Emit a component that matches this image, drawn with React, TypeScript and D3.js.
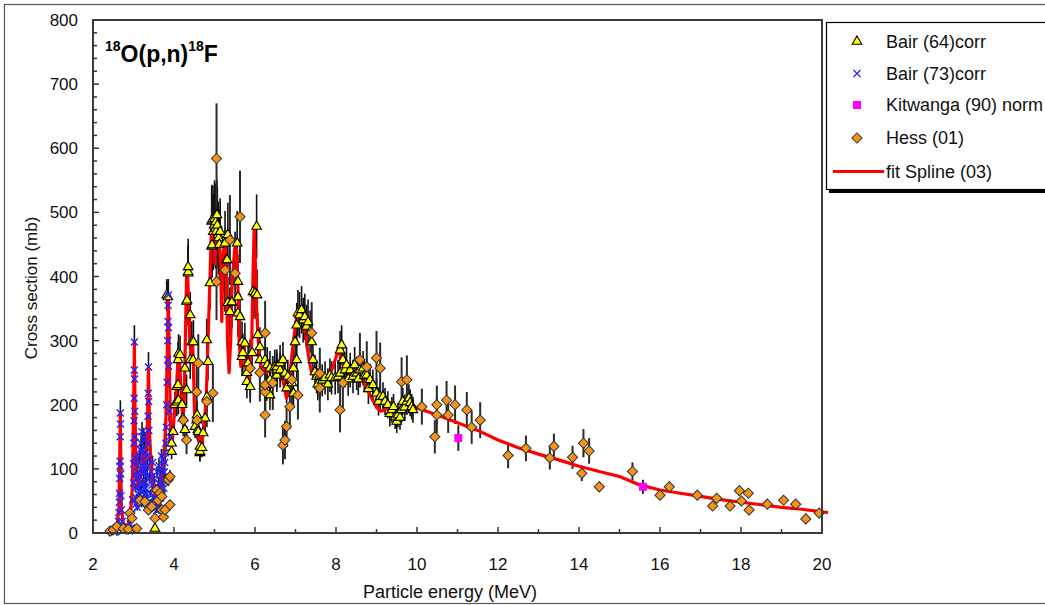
import { useEffect, useRef } from 'react';
import * as d3 from 'd3';

// [energy MeV, cross section mb, error mb]
type Pt = [number, number, number];

const bair64: Pt[] = [
  [3.53, 7, 3], [3.82, 371, 25], [3.85, 368, 25], [3.94, 127, 12], [3.94, 140, 14], [3.98, 158, 15],
  [4.02, 200, 20], [4.07, 204, 22], [4.07, 228, 24], [4.1, 231, 25], [4.1, 270, 28], [4.11, 207, 22],
  [4.11, 280, 30], [4.15, 278, 30], [4.19, 200, 22], [4.2, 200, 22], [4.22, 179, 20], [4.27, 161, 18],
  [4.27, 257, 27], [4.31, 223, 24], [4.31, 361, 38], [4.32, 363, 38], [4.35, 405, 42], [4.35, 407, 42],
  [4.35, 415, 44], [4.4, 270, 30], [4.4, 340, 36], [4.44, 298, 32], [4.47, 270, 30], [4.48, 298, 34],
  [4.52, 166, 18], [4.56, 176, 19], [4.57, 184, 20], [4.59, 161, 18], [4.6, 158, 17], [4.64, 125, 14],
  [4.64, 127, 14], [4.64, 135, 15], [4.69, 133, 15], [4.72, 156, 17], [4.77, 179, 20], [4.81, 212, 23],
  [4.81, 301, 33], [4.84, 267, 29], [4.89, 390, 42], [4.93, 447, 50], [4.93, 486, 55], [4.94, 449, 50],
  [4.94, 488, 55], [4.97, 470, 60], [4.99, 480, 62], [5.0, 490, 60], [5.02, 475, 62], [5.03, 485, 60],
  [5.04, 470, 58], [5.06, 496, 55], [5.07, 480, 60], [5.09, 465, 52], [5.1, 460, 56], [5.12, 450, 55],
  [5.14, 470, 52], [5.26, 452, 50], [5.3, 426, 46],
  [5.31, 426, 46], [5.33, 359, 40], [5.33, 465, 50], [5.38, 345, 38], [5.42, 359, 40], [5.43, 360, 40],
  [5.56, 452, 50], [5.58, 343, 37], [5.58, 368, 40], [5.58, 392, 42], [5.63, 337, 36], [5.68, 275, 30],
  [5.68, 298, 32], [5.7, 281, 30], [5.75, 296, 32], [5.8, 236, 26], [5.8, 250, 27], [5.83, 265, 28],
  [5.88, 228, 25], [5.93, 281, 30], [5.95, 376, 40], [6.0, 374, 40], [6.04, 478, 50], [6.05, 371, 40],
  [6.07, 309, 34], [6.12, 270, 29], [6.12, 290, 31], [6.25, 270, 29], [6.29, 231, 25], [6.3, 262, 28],
  [6.37, 215, 23], [6.37, 239, 25], [6.37, 257, 27], [6.49, 259, 27], [6.54, 246, 26], [6.54, 254, 27],
  [6.54, 259, 27], [6.62, 254, 27], [6.62, 265, 28], [6.69, 270, 28], [6.74, 249, 26], [6.78, 226, 24],
  [6.81, 244, 26], [6.91, 234, 25], [6.95, 218, 23], [6.95, 257, 27], [6.99, 298, 32], [7.03, 270, 29],
  [7.03, 324, 35], [7.06, 343, 36], [7.1, 340, 36], [7.15, 348, 37], [7.19, 332, 35], [7.23, 337, 36],
  [7.27, 322, 34], [7.31, 329, 35], [7.36, 314, 33], [7.4, 298, 32], [7.43, 270, 29], [7.48, 251, 27],
  [7.52, 244, 26], [7.55, 232, 25], [7.6, 246, 26], [7.66, 238, 25], [7.73, 242, 26], [7.8, 232, 25],
  [7.85, 246, 26], [7.89, 242, 26], [7.98, 242, 26], [8.05, 244, 26], [8.1, 249, 26], [8.1, 285, 30],
  [8.14, 293, 31], [8.17, 270, 29], [8.22, 254, 27], [8.26, 262, 28], [8.3, 240, 26], [8.35, 254, 27],
  [8.42, 244, 26], [8.46, 262, 28], [8.51, 249, 26], [8.55, 240, 25], [8.59, 254, 27], [8.67, 257, 27],
  [8.7, 245, 26], [8.76, 246, 26], [8.8, 225, 24], [8.84, 239, 25], [8.91, 231, 24], [9.0, 218, 23],
  [9.05, 205, 22], [9.09, 213, 22], [9.16, 213, 22], [9.21, 205, 21], [9.28, 200, 21], [9.33, 186, 20],
  [9.38, 192, 20], [9.42, 197, 20], [9.46, 181, 19], [9.5, 174, 18], [9.53, 184, 19], [9.58, 180, 19],
  [9.62, 192, 20], [9.65, 205, 21], [9.7, 196, 20], [9.75, 205, 21], [9.8, 210, 22], [9.83, 203, 21],
  [9.87, 197, 20], [9.9, 192, 20],
];

const bair73: Pt[] = [
  [2.52, 1, 1], [2.55, 2, 1], [2.58, 3, 1], [2.61, 8, 2], [2.63, 18, 3], [2.64, 32, 4], [2.65, 48, 5],
  [2.655, 62, 6], [2.66, 85, 8], [2.665, 104, 10], [2.67, 112, 10], [2.672, 150, 14], [2.675, 187, 20],
  [2.68, 170, 18], [2.685, 92, 9], [2.69, 58, 6], [2.7, 36, 4], [2.72, 18, 3], [2.75, 8, 2], [2.8, 5, 2],
  [2.86, 6, 2], [2.9, 3, 1], [2.92, 14, 3], [2.95, 8, 2], [2.96, 30, 4], [2.98, 52, 6], [3.0, 78, 8],
  [3.005, 108, 10], [3.01, 140, 13], [3.013, 175, 16], [3.016, 210, 20], [3.02, 254, 24], [3.022, 298, 26],
  [3.026, 240, 22], [3.03, 190, 18], [3.035, 150, 14], [3.04, 118, 11], [3.045, 92, 9], [3.05, 70, 7],
  [3.06, 45, 5], [3.07, 55, 6], [3.08, 85, 8], [3.09, 40, 5], [3.1, 95, 9], [3.11, 110, 10], [3.12, 72, 7],
  [3.13, 60, 6], [3.14, 50, 5], [3.15, 120, 11], [3.16, 88, 8], [3.17, 130, 12], [3.18, 65, 7],
  [3.19, 140, 13], [3.19, 75, 7], [3.2, 100, 9], [3.2, 45, 5], [3.21, 158, 15], [3.22, 78, 8],
  [3.23, 105, 10], [3.24, 130, 12], [3.25, 92, 9], [3.25, 150, 14], [3.26, 60, 6], [3.27, 110, 10],
  [3.27, 70, 7], [3.28, 145, 13], [3.29, 80, 8], [3.29, 125, 12], [3.3, 52, 6], [3.3, 95, 9], [3.31, 70, 7],
  [3.32, 120, 11], [3.32, 60, 6], [3.33, 90, 9], [3.34, 105, 10], [3.35, 140, 13], [3.36, 182, 17],
  [3.365, 218, 20], [3.37, 259, 23], [3.375, 205, 19], [3.38, 160, 15], [3.39, 115, 11], [3.4, 85, 8],
  [3.42, 62, 6], [3.43, 95, 9], [3.44, 48, 5], [3.46, 75, 7], [3.47, 110, 10], [3.48, 55, 6], [3.5, 40, 5],
  [3.51, 85, 8], [3.52, 68, 7], [3.54, 70, 7], [3.55, 50, 5], [3.57, 35, 4], [3.58, 95, 9], [3.6, 60, 6],
  [3.61, 40, 5], [3.62, 78, 8], [3.63, 105, 10], [3.64, 45, 5], [3.66, 90, 9], [3.67, 55, 6], [3.68, 70, 7],
  [3.69, 120, 11], [3.7, 100, 9], [3.71, 60, 6], [3.72, 82, 8], [3.73, 95, 9], [3.74, 115, 11],
  [3.75, 70, 7], [3.76, 95, 9], [3.77, 110, 10], [3.78, 125, 12], [3.8, 140, 13], [3.81, 165, 15],
  [3.82, 200, 18], [3.83, 235, 21], [3.84, 270, 24], [3.845, 300, 26], [3.85, 330, 28], [3.855, 355, 28],
  [3.86, 371, 25], [3.865, 320, 26], [3.87, 260, 22], [3.88, 190, 17], [3.89, 150, 14],
];

const kitwanga90: Pt[] = [[11.02, 148, 20], [15.58, 72, 11]];

const hess01: Pt[] = [
  [2.42, 3, 2], [2.5, 5, 3], [2.59, 10, 4], [2.75, 7, 3], [2.87, 6, 3], [2.91, 31, 6], [2.96, 23, 5],
  [3.08, 7, 3], [3.16, 51, 8], [3.28, 49, 8], [3.37, 36, 7], [3.45, 41, 7], [3.53, 23, 5], [3.57, 67, 9],
  [3.61, 51, 8], [3.65, 62, 9], [3.7, 36, 7], [3.7, 57, 8], [3.74, 25, 5], [3.78, 36, 7], [3.86, 83, 10],
  [3.9, 44, 7], [3.9, 88, 10], [4.23, 176, 25], [4.31, 145, 22], [4.56, 220, 40], [4.57, 176, 30],
  [4.6, 265, 45], [4.81, 205, 40], [4.96, 218, 45], [5.05, 392, 60], [5.05, 584, 86], [5.26, 410, 65],
  [5.38, 457, 70], [5.51, 405, 65], [5.63, 493, 72], [5.88, 257, 45], [6.12, 250, 45], [6.25, 184, 35],
  [6.25, 220, 40], [6.25, 231, 42], [6.25, 312, 50], [6.44, 234, 42], [6.69, 137, 30], [6.74, 145, 30],
  [6.78, 166, 32], [6.86, 197, 35], [6.91, 239, 40], [7.06, 215, 38], [7.4, 312, 48], [7.6, 226, 38],
  [7.6, 249, 40], [8.1, 192, 35], [8.17, 234, 40], [8.59, 270, 42], [8.76, 259, 40], [9.0, 273, 42],
  [9.09, 257, 40], [9.62, 236, 38], [9.75, 239, 38], [10.12, 197, 28], [10.44, 150, 26], [10.49, 184, 28],
  [10.49, 200, 30], [10.73, 207, 30], [10.77, 184, 28], [10.94, 200, 30], [11.23, 192, 28],
  [11.35, 165, 26], [11.56, 176, 28], [12.25, 121, 20], [12.69, 132, 20], [13.28, 117, 18],
  [13.38, 135, 20], [13.84, 118, 18], [14.07, 93, 12], [14.11, 140, 22], [14.25, 128, 20], [14.5, 72, 8],
  [15.32, 96, 14], [16.0, 59, 6], [16.23, 72, 8], [16.92, 59, 6], [17.3, 42, 5], [17.4, 54, 6],
  [17.73, 42, 5], [17.96, 66, 7], [18.01, 50, 6], [18.18, 62, 7], [18.2, 36, 5], [18.65, 45, 5],
  [19.05, 51, 6], [19.35, 45, 5], [19.6, 22, 4], [19.93, 31, 5],
];

// [energy MeV, cross section mb]
const splineFit: [number, number][] = [
  [2.45, 2], [2.55, 5], [2.6, 15], [2.64, 40], [2.66, 120], [2.675, 187], [2.685, 120], [2.7, 40],
  [2.75, 15], [2.85, 10], [2.92, 25], [2.97, 70], [3.0, 180], [3.022, 298], [3.04, 180], [3.07, 90],
  [3.12, 70], [3.18, 90], [3.22, 130], [3.26, 100], [3.3, 110], [3.34, 160], [3.37, 259], [3.4, 150],
  [3.45, 90], [3.52, 60], [3.6, 55], [3.68, 80], [3.75, 110], [3.8, 180], [3.84, 300], [3.86, 371],
  [3.88, 280], [3.92, 150], [3.95, 135], [3.98, 160], [4.02, 200], [4.06, 225], [4.1, 275], [4.13, 280],
  [4.16, 240], [4.19, 200], [4.22, 180], [4.25, 200], [4.28, 300], [4.31, 400], [4.33, 418], [4.36, 360],
  [4.39, 300], [4.42, 280], [4.45, 300], [4.48, 260], [4.51, 180], [4.55, 170], [4.58, 175], [4.61, 160],
  [4.64, 128], [4.68, 135], [4.72, 155], [4.76, 180], [4.8, 220], [4.83, 280], [4.86, 340], [4.89, 400],
  [4.92, 470], [4.95, 495], [4.98, 480], [5.01, 420], [5.04, 480], [5.08, 470], [5.12, 460], [5.15, 420],
  [5.18, 330], [5.21, 430], [5.25, 455], [5.29, 430], [5.32, 300], [5.36, 250], [5.4, 300], [5.43, 380],
  [5.47, 420], [5.51, 450], [5.55, 440], [5.58, 380], [5.61, 300], [5.65, 260], [5.69, 280], [5.73, 290],
  [5.77, 260], [5.81, 240], [5.85, 240], [5.89, 260], [5.92, 300], [5.95, 400], [5.98, 478], [6.01, 420],
  [6.04, 350], [6.08, 300], [6.12, 270], [6.18, 250], [6.24, 255], [6.3, 250], [6.4, 260], [6.5, 262],
  [6.6, 255], [6.7, 235], [6.78, 210], [6.84, 235], [6.9, 270], [6.95, 300], [7.0, 325], [7.05, 343],
  [7.1, 345], [7.15, 340], [7.2, 330], [7.25, 310], [7.3, 285], [7.35, 265], [7.4, 250], [7.5, 242],
  [7.6, 244], [7.7, 240], [7.8, 245], [7.9, 255], [7.98, 270], [8.05, 285], [8.12, 275], [8.2, 258],
  [8.3, 252], [8.4, 255], [8.5, 250], [8.6, 245], [8.7, 232], [8.8, 220], [8.9, 208], [9.0, 196],
  [9.1, 190], [9.2, 192], [9.3, 196], [9.4, 194], [9.5, 190], [9.6, 194], [9.7, 198], [9.85, 200],
  [10.0, 195], [10.5, 184], [11.0, 172], [11.5, 160], [12.0, 145], [12.5, 133], [13.0, 123], [13.5, 114],
  [14.0, 104], [14.5, 96], [15.0, 88], [15.5, 75], [16.0, 67], [16.5, 62], [17.0, 57], [17.5, 52],
  [18.0, 48], [18.5, 44], [19.0, 40], [19.5, 37], [20.0, 33], [20.15, 32],
];

const xTicks = [2, 4, 6, 8, 10, 12, 14, 16, 18, 20];
const yTicks = [0, 100, 200, 300, 400, 500, 600, 700, 800];
const legendLabels = ['Bair (64)corr', 'Bair (73)corr', 'Kitwanga (90) norm', 'Hess (01)', 'fit Spline (03)'];

const W = 1045;
const H = 605;
const FONT = '"Liberation Sans", Arial, sans-serif';

export default function App() {
  const svgRef = useRef<SVGSVGElement>(null);

  useEffect(() => {
    const svg = d3.select(svgRef.current);
    svg.selectAll('*').remove();

    const x = d3.scaleLinear().domain([2, 20]).range([93, 822]);
    const y = d3.scaleLinear().domain([0, 800]).range([533, 20]);

    // outer frame
    svg.append('rect').attr('x', 4.5).attr('y', 4.5).attr('width', W).attr('height', H - 6)
      .attr('fill', 'none').attr('stroke', '#555').attr('stroke-width', 1.2);

    // ticks
    const g = svg.append('g');
    d3.range(2, 20.001, 1).forEach(v => {
      const major = v % 2 === 0;
      g.append('line').attr('x1', x(v)).attr('x2', x(v)).attr('y1', y(0)).attr('y2', y(0) - (major ? 6 : 4))
        .attr('stroke', '#333').attr('stroke-width', 1.5);
    });
    d3.range(0, 800.001, 20).forEach(v => {
      const major = v % 100 === 0;
      g.append('line').attr('x1', x(2)).attr('x2', x(2) + (major ? 6 : 4)).attr('y1', y(v)).attr('y2', y(v))
        .attr('stroke', '#333').attr('stroke-width', 1.5);
    });

    g.selectAll('text.xt').data(xTicks).enter().append('text')
      .attr('x', d => x(d)).attr('y', 570).attr('text-anchor', 'middle')
      .style('font', `17px ${FONT}`).attr('fill', '#111').text(d => d);
    g.selectAll('text.yt').data(yTicks).enter().append('text')
      .attr('x', 78).attr('y', d => y(d) + 6).attr('text-anchor', 'end')
      .style('font', `17px ${FONT}`).attr('fill', '#111').text(d => d);

    svg.append('text').attr('x', 450).attr('y', 598).attr('text-anchor', 'middle')
      .style('font', `18px ${FONT}`).attr('fill', '#111').text('Particle energy (MeV)');
    svg.append('text').attr('transform', 'translate(37,288) rotate(-90)').attr('text-anchor', 'middle')
      .style('font', `17px ${FONT}`).attr('fill', '#111').text('Cross section (mb)');

    // title
    const title = svg.append('text').attr('x', 105).attr('y', 62)
      .style('font', `bold 23px ${FONT}`).attr('fill', '#000');
    title.append('tspan').attr('dy', -11).style('font-size', '14px').text('18');
    title.append('tspan').attr('dy', 11).text('O(p,n)');
    title.append('tspan').attr('dy', -11).style('font-size', '14px').text('18');
    title.append('tspan').attr('dy', 11).text('F');

    // error bars
    const errBars = (data: Pt[], color: string, width: number) => {
      svg.append('g').selectAll('line').data(data).enter().append('line')
        .attr('x1', d => x(d[0])).attr('x2', d => x(d[0]))
        .attr('y1', d => y(d[1] + d[2])).attr('y2', d => y(Math.max(0, d[1] - d[2])))
        .attr('stroke', color).attr('stroke-width', width);
    };
    errBars(bair64, '#111', 1.6);
    errBars(bair73, '#111', 1.6);
    errBars(hess01, '#2a2a2a', 2);
    errBars(kitwanga90, '#2a2a2a', 2);

    // spline fit
    const line = d3.line<[number, number]>().x(d => x(d[0])).y(d => y(d[1]));
    svg.append('path').datum(splineFit).attr('d', line).attr('fill', 'none')
      .attr('stroke', '#ff0000').attr('stroke-width', 3.2).attr('stroke-linejoin', 'round');

    const tri = d3.symbol(d3.symbolTriangle, 40)();
    const cross = d3.symbol(d3.symbolX, 34)();
    const sq = d3.symbol(d3.symbolSquare, 64)();
    const dia = d3.symbol(d3.symbolSquare, 52)();

    const markers = (data: Pt[], path: string | null, fill: string, stroke: string, sw: number, rot = 0) => {
      svg.append('g').selectAll('path').data(data).enter().append('path')
        .attr('d', path)
        .attr('transform', d => `translate(${x(d[0])},${y(d[1])}) rotate(${rot})`)
        .attr('fill', fill).attr('stroke', stroke).attr('stroke-width', sw);
    };
    markers(bair64, tri, '#ffff00', '#000', 1.1);
    markers(bair73, cross, 'none', '#2323ff', 1.4);
    markers(hess01, dia, '#f39419', '#333', 1, 45);
    markers(kitwanga90, sq, '#ff00ff', 'none', 0);

    // plot frame
    svg.append('rect').attr('x', x(2)).attr('y', y(800)).attr('width', x(20) - x(2)).attr('height', y(0) - y(800))
      .attr('fill', 'none').attr('stroke', '#3a3a3a').attr('stroke-width', 2);

    // legend
    const lg = svg.append('g');
    lg.append('rect').attr('x', 829).attr('y', 26).attr('width', 240).attr('height', 167).attr('fill', '#000');
    lg.append('rect').attr('x', 826.5).attr('y', 22.5).attr('width', 240).attr('height', 167)
      .attr('fill', '#fff').attr('stroke', '#000').attr('stroke-width', 1.2);
    const rowY = [41.5, 73.5, 105, 138, 171.5];
    const legendSym = [
      { p: tri, fill: '#ffff00', stroke: '#000', sw: 1.1, rot: 0 },
      { p: cross, fill: 'none', stroke: '#2323ff', sw: 1.2, rot: 0 },
      { p: sq, fill: '#ff00ff', stroke: 'none', sw: 0, rot: 0 },
      { p: dia, fill: '#f39419', stroke: '#333', sw: 1, rot: 45 },
    ];
    legendLabels.forEach((label, i) => {
      if (i < 4) {
        const s = legendSym[i];
        lg.append('path').attr('d', s.p).attr('transform', `translate(857,${rowY[i]}) rotate(${s.rot})`)
          .attr('fill', s.fill).attr('stroke', s.stroke).attr('stroke-width', s.sw);
      } else {
        lg.append('line').attr('x1', 833).attr('x2', 884).attr('y1', rowY[i]).attr('y2', rowY[i])
          .attr('stroke', '#ff0000').attr('stroke-width', 3);
      }
      lg.append('text').attr('x', 886).attr('y', rowY[i] + 6).style('font', `18px ${FONT}`)
        .attr('fill', '#111').text(label);
    });
  }, []);

  return (
    <svg ref={svgRef} width={W} height={H}
      style={{ position: 'absolute', left: 0, top: 0, background: '#fff', display: 'block' }} />
  );
}
